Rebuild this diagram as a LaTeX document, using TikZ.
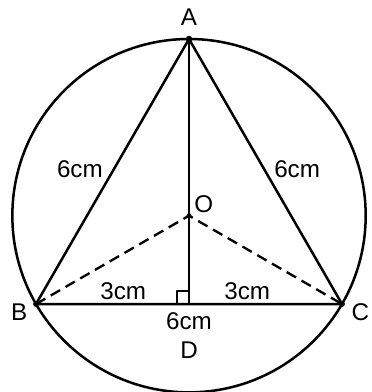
\documentclass[tikz,border=0pt]{standalone}
\usepackage{fontspec}
\setmainfont{Liberation Sans}
\usetikzlibrary{calc}
\tikzset{figure/.style={
  line width=1.4pt,line join=round,line cap=round
},
  radius/.style={line width=1.3pt,dash pattern=on 6pt off 3.5pt,line cap=butt},
  lbl/.style={font=\fontsize{13.5}{15}\selectfont,inner sep=1pt}
}

\begin{document}
\begin{tikzpicture}[figure]
  \useasboundingbox (-3.706,-1.725) rectangle (3.569,5.961);
  \clip (-3.706,-1.725) rectangle (3.569,5.961);
  \coordinate (B) at (-3,0);
  \coordinate (C) at (3,0);
  \coordinate (D) at (0,0);
  \coordinate (A) at (0,{3*sqrt(3)});
  \coordinate (O) at (0,{sqrt(3)});

  \draw (O) circle ({2*sqrt(3)});
  \draw (A)--(B)--(C)--cycle;
  \draw (A)--(D);
  \draw[radius] (B)--(O)--(C);
  \draw[line width=1.2pt] ($(D)+(-0.24,0)$) |- ($(D)+(0,0.26)$);
  \fill (A) circle (1.8pt);
  \fill (B) circle (1.6pt);
  \fill (C) circle (1.6pt);
  \fill (O) circle (1.4pt);

  \node[lbl] (lA) at (0,5.62) {A};
  \node[lbl] (lB) at (-3.33,-0.16) {B};
  \node[lbl] (lC) at (3.36,-0.16) {C};
  \node[lbl] (lD) at (0,-0.9) {D};
  \node[lbl] (lO) at (0.29,1.95) {O};
  \node[lbl] (lAB) at (-2.14,2.65) {6cm};
  \node[lbl] (lAC) at (2.12,2.65) {6cm};
  \node[lbl] (lBD) at (-1.29,0.25) {3cm};
  \node[lbl] (lDC) at (1.14,0.25) {3cm};
  \node[lbl] (lBC) at (0,-0.33) {6cm};
\end{tikzpicture}
\end{document}
